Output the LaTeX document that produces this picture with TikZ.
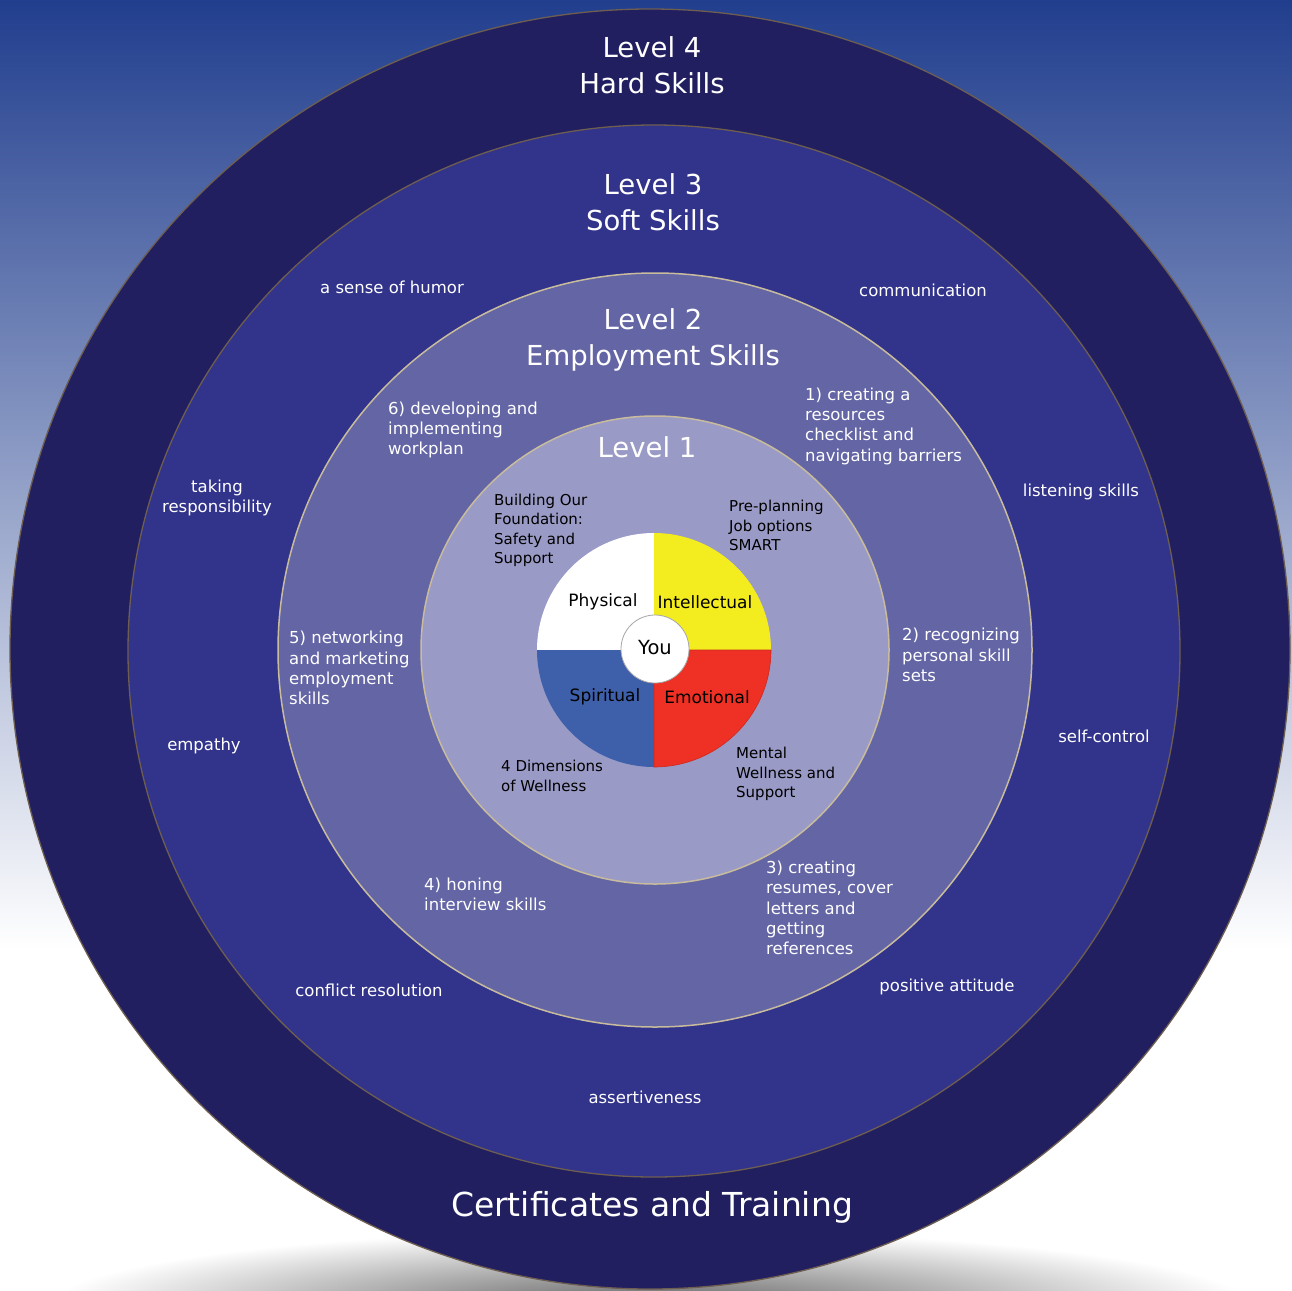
\documentclass[tikz,border=0pt]{standalone}
\usepackage{fontspec}
\setmainfont{DejaVu Sans}
\definecolor{bgtop}{RGB}{33,62,142}
\definecolor{ringfour}{RGB}{34,31,96}
\definecolor{ringthree}{RGB}{50,51,138}
\definecolor{ringtwo}{RGB}{100,101,165}
\definecolor{ringone}{RGB}{154,154,198}
\definecolor{edgedark}{RGB}{110,94,80}
\definecolor{edgelight}{RGB}{200,188,156}
\definecolor{pyellow}{RGB}{243,236,30}
\definecolor{pred}{RGB}{238,49,36}
\definecolor{pblue}{RGB}{62,95,170}
\tikzset{
  titletext/.style={text=white,font=\fontsize{27.5}{36}\selectfont,align=center,inner sep=0},
  lthree/.style={text=white,font=\fontsize{16.5}{20}\selectfont,align=center,inner sep=0},
  ltwo/.style={text=white,font=\fontsize{16.5}{20.3}\selectfont,align=left,inner sep=0,anchor=west},
  lone/.style={text=black,font=\fontsize{15}{19.5}\selectfont,align=left,inner sep=0,anchor=west},
  pielabel/.style={text=black,font=\fontsize{17}{20}\selectfont,inner sep=0},
}
\begin{document}
\begin{tikzpicture}[x=1pt,y=-1pt]
\useasboundingbox (0,0) rectangle (1292,1290);
\begin{scope}
\clip (0,0) rectangle (1292,1290);
% background
\fill[white] (0,0) rectangle (1292,1290);
\shade[top color=bgtop,bottom color=white] (0,0) rectangle (1292,950);
% shadow
\shade[inner color=black!62,outer color=white] (650,1305) ellipse[x radius=600,y radius=75];
% rings
\fill[ringfour,draw=edgedark,line width=1.3pt] (650,649) circle[radius=640];
\fill[ringthree,draw=edgedark,line width=1.3pt] (654,651) circle[radius=526];
\fill[ringtwo,draw=edgelight,line width=1.5pt] (655,650) circle[radius=377];
\fill[ringone,draw=edgelight,line width=1.5pt] (655,650) circle[radius=234];
% pie
\fill[white] (654,650) -- ++(-117,0) arc[start angle=180,end angle=270,radius=117] -- cycle;
\fill[pyellow] (654,650) -- ++(117,0) arc[start angle=0,end angle=-90,radius=117] -- cycle;
\fill[pblue] (654,650) -- ++(-117,0) arc[start angle=180,end angle=90,radius=117] -- cycle;
\fill[pred,draw=pred!85!black,line width=0.6pt] (654,650) -- ++(117,0) arc[start angle=0,end angle=90,radius=117] -- cycle;
\fill[white,draw=gray!70,line width=0.8pt] (655,649) circle[radius=34];
\end{scope}
% titles
\node[titletext] (l4) at (652,65) {Level 4\\Hard Skills};
\node[titletext] (l3) at (653,202) {Level 3\\Soft Skills};
\node[titletext] (l2) at (653,340) {Level 2\\Employment Skills};
\node[titletext] (l1) at (647,447) {Level 1};
\node[titletext,font=\fontsize{33}{40}\selectfont] (cert) at (652,1207) {Certificates and Training};
% level 3 labels
\node[lthree] (humor) at (392,287) {a sense of humor};
\node[lthree] (comm) at (923,290) {communication};
\node[lthree] (resp) at (217,498) {taking\\responsibility};
\node[lthree] (listen) at (1081,492) {listening skills};
\node[lthree] (empathy) at (204,746) {empathy};
\node[lthree] (selfc) at (1104,736) {self-control};
\node[lthree] (conflict) at (369,990) {conflict resolution};
\node[lthree] (positive) at (947,987) {positive attitude};
\node[lthree] (assert) at (645,1097) {assertiveness};
% level 2 labels
\node[ltwo] (six) at (388,430) {6) developing and\\implementing\\workplan};
\node[ltwo] (one) at (805,426) {1) creating a\\resources\\checklist and\\navigating barriers};
\node[ltwo] (two) at (902,655) {2) recognizing\\personal skill\\sets};
\node[ltwo] (five) at (289,668) {5) networking\\and marketing\\employment\\skills};
\node[ltwo] (four) at (424,894) {4) honing\\interview skills};
\node[ltwo] (three) at (766,908) {3) creating\\resumes, cover\\letters and\\getting\\references};
% level 1 labels
\node[lone] (build) at (494,530.5) {Building Our\\Foundation:\\Safety and\\Support};
\node[lone] (pre) at (729,525.5) {Pre-planning\\Job options\\SMART};
\node[lone] (dims) at (501,776) {4 Dimensions\\of Wellness};
\node[lone] (mental) at (736,774) {Mental\\Wellness and\\Support};
% pie labels
\node[pielabel] (phys) at (603,602) {Physical};
\node[pielabel] (intel) at (705,602) {Intellectual};
\node[pielabel] (spirit) at (605,697) {Spiritual};
\node[pielabel] (emot) at (707,697) {Emotional};
\node[pielabel,font=\fontsize{19.5}{22}\selectfont] (you) at (655,648) {You};
\end{tikzpicture}
\end{document}
